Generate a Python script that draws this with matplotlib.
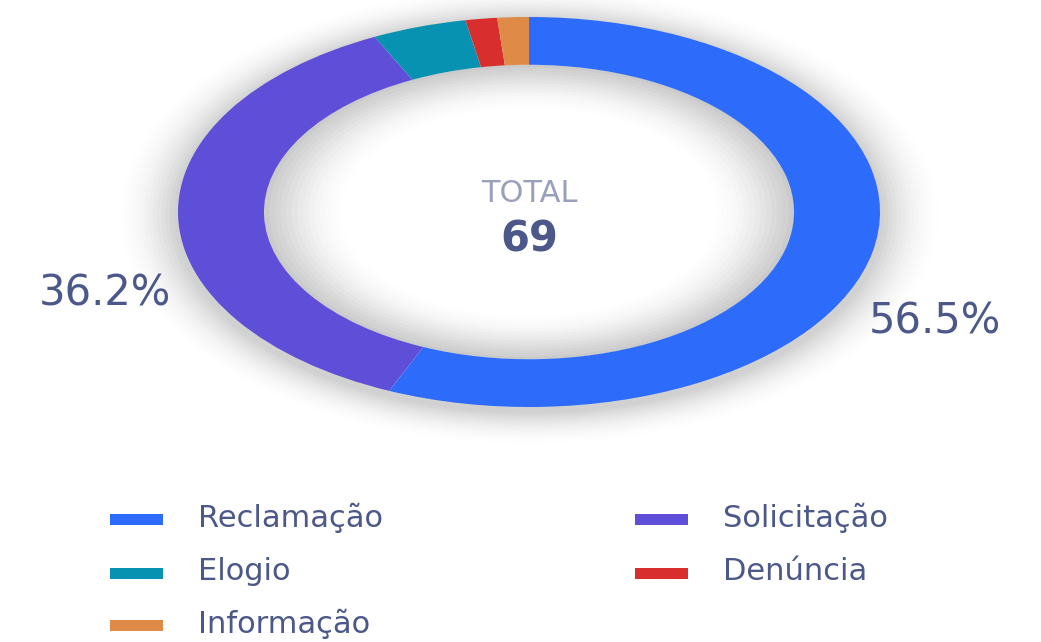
import matplotlib.pyplot as plt
from matplotlib.patches import Wedge, Rectangle

categories = ['Reclamação', 'Solicitação', 'Elogio', 'Denúncia', 'Informação']
counts = [39, 25, 3, 1, 1]
colors = ['#2D6BFA', '#5F4FD8', '#0892B2', '#D92E2E', '#DF8A46']
total = sum(counts)

W, H = 1041, 642
CX, CY, RX, RY = 529, 212, 351, 195   # donut centre / radii in pixels
TEXT = '#4B5889'

fig = plt.figure(figsize=(W / 100, H / 100), dpi=100)
ax = fig.add_axes([0, 0, 1, 1])


def fx(px):
    return px / W


def fy(py):
    return 1 - py / H


# soft grey shadow around the ring
for i in range(14):
    a = 0.035 * (1 - i / 14)
    ax.add_patch(Wedge((0, -0.02), 1.0 + 0.012 * (i + 1), 0, 360,
                       width=0.012 * (i + 1) + 0.03, color='#555555', alpha=a, lw=0))
    ax.add_patch(Wedge((0, 0), 0.756, 0, 360,
                       width=0.016 * (i + 1), color='#555555', alpha=a * 1.2, lw=0))

wedges, _ = ax.pie(counts, colors=colors, startangle=90, counterclock=False,
                   radius=1.0, wedgeprops=dict(width=0.245, linewidth=0))
ax.set_aspect('auto')
ax.set_xlim(-CX / RX, (W - CX) / RX)
ax.set_ylim(-(H - CY) / RY, CY / RY)
ax.axis('off')

# centre text
fig.text(fx(CX), fy(193), 'TOTAL', ha='center', va='center',
         fontsize=22, color='#98A0BA', family='DejaVu Sans')
fig.text(fx(CX), fy(240), str(total), ha='center', va='center',
         fontsize=30, fontweight='bold', color=TEXT, family='DejaVu Sans')

# percentage labels for the large slices
pct_pos = {0: (935, 322), 1: (105, 293)}
for i, (x, y) in pct_pos.items():
    pct = counts[i] / total * 100
    fig.text(fx(x), fy(y), f'{pct:.1f}%', ha='center', va='center',
             fontsize=30, color=TEXT, family='DejaVu Sans')

# legend, two columns filled row by row
col_x = [110, 635]
row_y = [519, 573, 625]
for i, (lab, c) in enumerate(zip(categories, colors)):
    x = col_x[i % 2]
    y = row_y[i // 2]
    fig.add_artist(Rectangle((fx(x), fy(y + 5.5)), 53 / W, 11 / H,
                             transform=fig.transFigure, color=c, lw=0))
    fig.text(fx(x + 88), fy(y - 1), lab, ha='left', va='center',
             fontsize=22, color=TEXT, family='DejaVu Sans')

fig.savefig('out.png', dpi=100, facecolor='white')
